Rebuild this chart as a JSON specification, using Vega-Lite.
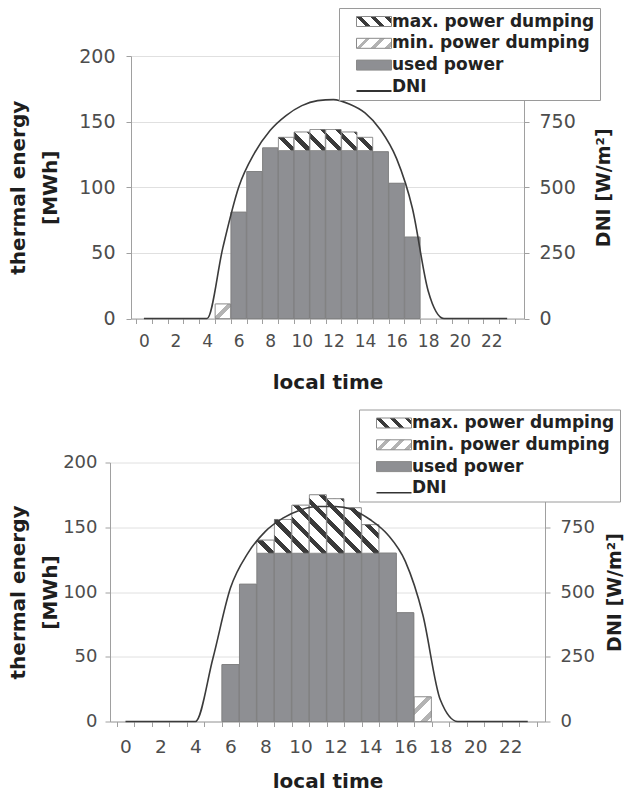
{
  "$schema": "https://vega.github.io/schema/vega-lite/v6.json",
  "background": "white",
  "padding": {"left": 8, "top": 7, "right": 0, "bottom": 0},
  "center": true,
  "bounds": "flush",
  "spacing": 143.5,
  "config": {
    "view": {"stroke": null},
    "font": "DejaVu Sans",
    "axis": {
      "labelFont": "DejaVu Sans", "labelFontSize": 18, "labelColor": "#4d4d4d",
      "titleFont": "DejaVu Sans", "titleFontSize": 20, "titleFontWeight": "bold", "titleColor": "#1e1e1e",
      "domainColor": "#a0a0a0", "tickColor": "#a0a0a0", "gridColor": "#e0e0e0",
      "tickSize": 5, "labelFlush": false, "labelOverlap": false
    },
    "legend": {
      "labelFont": "DejaVu Sans", "labelFontSize": 17, "labelFontWeight": "bold", "labelColor": "#222222",
      "fillColor": "white", "strokeColor": "#9a9a9a", "padding": 5, "rowPadding": 3.8,
      "symbolSize": 100, "symbolOffset": 9, "labelOffset": 22, "labelLimit": 400,
      "symbolType": "M-1,-1H6V1H-1Z", "symbolStrokeWidth": 1
    }
  },
  "datasets": {
    "top_energy": [
      {"hour": 5, "type": "min. power dumping", "energy": 11},
      {"hour": 6, "type": "used power", "energy": 81},
      {"hour": 7, "type": "used power", "energy": 112},
      {"hour": 8, "type": "used power", "energy": 130},
      {"hour": 9, "type": "used power", "energy": 128},
      {"hour": 9, "type": "max. power dumping", "energy": 10},
      {"hour": 10, "type": "used power", "energy": 128},
      {"hour": 10, "type": "max. power dumping", "energy": 14},
      {"hour": 11, "type": "used power", "energy": 128},
      {"hour": 11, "type": "max. power dumping", "energy": 16},
      {"hour": 12, "type": "used power", "energy": 128},
      {"hour": 12, "type": "max. power dumping", "energy": 16},
      {"hour": 13, "type": "used power", "energy": 128},
      {"hour": 13, "type": "max. power dumping", "energy": 14},
      {"hour": 14, "type": "used power", "energy": 128},
      {"hour": 14, "type": "max. power dumping", "energy": 10},
      {"hour": 15, "type": "used power", "energy": 127},
      {"hour": 16, "type": "used power", "energy": 103},
      {"hour": 17, "type": "used power", "energy": 62}
    ],
    "bottom_energy": [
      {"hour": 6, "type": "used power", "energy": 44},
      {"hour": 7, "type": "used power", "energy": 106},
      {"hour": 8, "type": "used power", "energy": 130},
      {"hour": 8, "type": "max. power dumping", "energy": 10},
      {"hour": 9, "type": "used power", "energy": 130},
      {"hour": 9, "type": "max. power dumping", "energy": 26},
      {"hour": 10, "type": "used power", "energy": 130},
      {"hour": 10, "type": "max. power dumping", "energy": 37},
      {"hour": 11, "type": "used power", "energy": 130},
      {"hour": 11, "type": "max. power dumping", "energy": 45},
      {"hour": 12, "type": "used power", "energy": 130},
      {"hour": 12, "type": "max. power dumping", "energy": 42},
      {"hour": 13, "type": "used power", "energy": 130},
      {"hour": 13, "type": "max. power dumping", "energy": 35},
      {"hour": 14, "type": "used power", "energy": 130},
      {"hour": 14, "type": "max. power dumping", "energy": 22},
      {"hour": 15, "type": "used power", "energy": 130},
      {"hour": 16, "type": "used power", "energy": 84},
      {"hour": 17, "type": "min. power dumping", "energy": 19}
    ],
    "top_dni": [
      {"hour": 0, "dni": 0}, {"hour": 1, "dni": 0}, {"hour": 2, "dni": 0}, {"hour": 3, "dni": 0},
      {"hour": 4, "dni": 0}, {"hour": 5, "dni": 270}, {"hour": 6, "dni": 500}, {"hour": 7, "dni": 630},
      {"hour": 8, "dni": 717}, {"hour": 9, "dni": 773}, {"hour": 10, "dni": 811}, {"hour": 11, "dni": 830},
      {"hour": 12, "dni": 834}, {"hour": 13, "dni": 817}, {"hour": 14, "dni": 783}, {"hour": 15, "dni": 717},
      {"hour": 16, "dni": 609}, {"hour": 17, "dni": 420}, {"hour": 18, "dni": 105}, {"hour": 19, "dni": 0},
      {"hour": 20, "dni": 0}, {"hour": 21, "dni": 0}, {"hour": 22, "dni": 0}, {"hour": 23, "dni": 0}
    ],
    "bottom_dni": [
      {"hour": 0, "dni": 0}, {"hour": 1, "dni": 0}, {"hour": 2, "dni": 0}, {"hour": 3, "dni": 0},
      {"hour": 4, "dni": 0}, {"hour": 5, "dni": 244}, {"hour": 6, "dni": 515}, {"hour": 7, "dni": 650},
      {"hour": 8, "dni": 734}, {"hour": 9, "dni": 785}, {"hour": 10, "dni": 817}, {"hour": 11, "dni": 830},
      {"hour": 12, "dni": 830}, {"hour": 13, "dni": 817}, {"hour": 14, "dni": 779}, {"hour": 15, "dni": 721},
      {"hour": 16, "dni": 618}, {"hour": 17, "dni": 412}, {"hour": 18, "dni": 84}, {"hour": 19, "dni": 0},
      {"hour": 20, "dni": 0}, {"hour": 21, "dni": 0}, {"hour": 22, "dni": 0}, {"hour": 23, "dni": 0}
    ]
  },
  "resolve": {"scale": {"fill": "independent", "stroke": "independent"}, "legend": {"fill": "independent", "stroke": "independent"}},
  "vconcat": [
    {
      "width": 393,
      "height": 262.5,
      "resolve": {"scale": {"y": "independent"}, "axis": {"x": "independent"}},
      "layer": [
        {
          "data": {"name": "top_energy"},
          "mark": {"type": "bar", "size": 15.2},
          "encoding": {
            "x": {
              "field": "hour", "type": "quantitative",
              "scale": {"domain": [-0.5, 23.75], "nice": false, "zero": false},
              "axis": {
                "orient": "bottom", "values": [0, 2, 4, 6, 8, 10, 12, 14, 16, 18, 20, 22],
                "ticks": false, "tickSize": 5, "labelPadding": 15, "labelFontSize": 17,
                "title": "local time", "titlePadding": 23, "grid": false
              }
            },
            "y": {
              "field": "energy", "type": "quantitative", "stack": "zero",
              "scale": {"domain": [0, 200], "nice": false},
              "axis": {
                "values": [0, 50, 100, 150, 200], "grid": true,
                "title": ["thermal energy", "[MWh]"], "titleLineHeight": 32,
                "labelPadding": 11, "titlePadding": 18, "labelFontSize": 19
              }
            },
            "fill": {
              "field": "type", "type": "nominal",
              "scale": {
                "domain": ["max. power dumping", "min. power dumping", "used power", "DNI"],
                "range": [
                  {"expr": "{gradient:'linear',x1:0,y1:1,x2:2.241,y2:0.36,stops:[{offset:0,color:'#fff'},{offset:0.11,color:'#fff'},{offset:0.11,color:'#3a3a3a'},{offset:0.1667,color:'#3a3a3a'},{offset:0.1667,color:'#fff'},{offset:0.2767,color:'#fff'},{offset:0.2767,color:'#3a3a3a'},{offset:0.3333,color:'#3a3a3a'},{offset:0.3333,color:'#fff'},{offset:0.4433,color:'#fff'},{offset:0.4433,color:'#3a3a3a'},{offset:0.5,color:'#3a3a3a'},{offset:0.5,color:'#fff'},{offset:0.61,color:'#fff'},{offset:0.61,color:'#3a3a3a'},{offset:0.6667,color:'#3a3a3a'},{offset:0.6667,color:'#fff'},{offset:0.7767,color:'#fff'},{offset:0.7767,color:'#3a3a3a'},{offset:0.8333,color:'#3a3a3a'},{offset:0.8333,color:'#fff'},{offset:0.9433,color:'#fff'},{offset:0.9433,color:'#3a3a3a'},{offset:1,color:'#3a3a3a'}]}"},
                  {"expr": "{gradient:'linear',x1:0,y1:0,x2:2.241,y2:0.64,stops:[{offset:0,color:'#fff'},{offset:0.11,color:'#fff'},{offset:0.11,color:'#b3b3b3'},{offset:0.1667,color:'#b3b3b3'},{offset:0.1667,color:'#fff'},{offset:0.2767,color:'#fff'},{offset:0.2767,color:'#b3b3b3'},{offset:0.3333,color:'#b3b3b3'},{offset:0.3333,color:'#fff'},{offset:0.4433,color:'#fff'},{offset:0.4433,color:'#b3b3b3'},{offset:0.5,color:'#b3b3b3'},{offset:0.5,color:'#fff'},{offset:0.61,color:'#fff'},{offset:0.61,color:'#b3b3b3'},{offset:0.6667,color:'#b3b3b3'},{offset:0.6667,color:'#fff'},{offset:0.7767,color:'#fff'},{offset:0.7767,color:'#b3b3b3'},{offset:0.8333,color:'#b3b3b3'},{offset:0.8333,color:'#fff'},{offset:0.9433,color:'#fff'},{offset:0.9433,color:'#b3b3b3'},{offset:1,color:'#b3b3b3'}]}"},
                  "#8e8f93",
                  {"expr": "{gradient:'linear',x1:0,y1:0,x2:0,y2:1,stops:[{offset:0,color:'#fff'},{offset:0.84,color:'#fff'},{offset:0.84,color:'#333'},{offset:1,color:'#333'}]}"}
                ]
              },
              "legend": {"orient": "none", "legendX": 208, "legendY": -48, "title": null}
            },
            "stroke": {
              "field": "type", "type": "nominal",
              "scale": {"domain": ["max. power dumping", "min. power dumping", "used power", "DNI"], "range": ["#8a8a8a", "#8a8a8a", "#8a8a8a", "transparent"]},
              "legend": {"orient": "none", "legendX": 208, "legendY": -48, "title": null}
            },
            "detail": {"field": "type"},
            "order": {"field": "type", "sort": "descending"}
          }
        },
        {
          "data": {"name": "top_energy"},
          "mark": {
            "type": "bar", "size": 15.2, "stroke": "#7c7c7c", "strokeWidth": 0.6,
            "fill": {"expr": "datum.type === 'used power' ? '#8e8f93' : datum.type === 'max. power dumping' ? {gradient:'linear',x1:0,y1:1,x2:110.3*15.2/(231.04+pow(datum.energy*1.3125,2)),y2:1-110.3*datum.energy*1.3125/(231.04+pow(datum.energy*1.3125,2)),stops:[{offset:0,color:'#fff'},{offset:0.11,color:'#fff'},{offset:0.11,color:'#3a3a3a'},{offset:0.1667,color:'#3a3a3a'},{offset:0.1667,color:'#fff'},{offset:0.2767,color:'#fff'},{offset:0.2767,color:'#3a3a3a'},{offset:0.3333,color:'#3a3a3a'},{offset:0.3333,color:'#fff'},{offset:0.4433,color:'#fff'},{offset:0.4433,color:'#3a3a3a'},{offset:0.5,color:'#3a3a3a'},{offset:0.5,color:'#fff'},{offset:0.61,color:'#fff'},{offset:0.61,color:'#3a3a3a'},{offset:0.6667,color:'#3a3a3a'},{offset:0.6667,color:'#fff'},{offset:0.7767,color:'#fff'},{offset:0.7767,color:'#3a3a3a'},{offset:0.8333,color:'#3a3a3a'},{offset:0.8333,color:'#fff'},{offset:0.9433,color:'#fff'},{offset:0.9433,color:'#3a3a3a'},{offset:1,color:'#3a3a3a'}]} : {gradient:'linear',x1:0,y1:0,x2:110.3*15.2/(231.04+pow(datum.energy*1.3125,2)),y2:110.3*datum.energy*1.3125/(231.04+pow(datum.energy*1.3125,2)),stops:[{offset:0,color:'#fff'},{offset:0.11,color:'#fff'},{offset:0.11,color:'#b3b3b3'},{offset:0.1667,color:'#b3b3b3'},{offset:0.1667,color:'#fff'},{offset:0.2767,color:'#fff'},{offset:0.2767,color:'#b3b3b3'},{offset:0.3333,color:'#b3b3b3'},{offset:0.3333,color:'#fff'},{offset:0.4433,color:'#fff'},{offset:0.4433,color:'#b3b3b3'},{offset:0.5,color:'#b3b3b3'},{offset:0.5,color:'#fff'},{offset:0.61,color:'#fff'},{offset:0.61,color:'#b3b3b3'},{offset:0.6667,color:'#b3b3b3'},{offset:0.6667,color:'#fff'},{offset:0.7767,color:'#fff'},{offset:0.7767,color:'#b3b3b3'},{offset:0.8333,color:'#b3b3b3'},{offset:0.8333,color:'#fff'},{offset:0.9433,color:'#fff'},{offset:0.9433,color:'#b3b3b3'},{offset:1,color:'#b3b3b3'}]}"}
          },
          "encoding": {
            "x": {"field": "hour", "type": "quantitative", "axis": null},
            "y": {"field": "energy", "type": "quantitative", "stack": "zero", "scale": {"domain": [0, 200], "nice": false}, "axis": null},
            "detail": {"field": "type"},
            "order": {"field": "type", "sort": "descending"}
          }
        },
        {
          "data": {"name": "top_dni"},
          "mark": {"type": "line", "stroke": "#3b3b3b", "strokeWidth": 1.6, "interpolate": "monotone"},
          "encoding": {
            "x": {
              "field": "hour", "type": "quantitative",
              "axis": {
                "orient": "bottom", "values": [-0.5, 0.5, 1.5, 2.5, 3.5, 4.5, 5.5, 6.5, 7.5, 8.5, 9.5, 10.5, 11.5, 12.5, 13.5, 14.5, 15.5, 16.5, 17.5, 18.5, 19.5, 20.5, 21.5, 22.5, 23.5],
                "labels": false, "title": null, "domain": false, "grid": false, "tickSize": 5
              }
            },
            "y": {
              "field": "dni", "type": "quantitative",
              "scale": {"domain": [0, 1000], "nice": false},
              "axis": {
                "orient": "right", "values": [0, 250, 500, 750], "grid": false,
                "title": "DNI [W/m²]", "titleAngle": 270, "titleFontSize": 19,
                "labelPadding": 10, "titlePadding": 38, "labelFontSize": 19
              }
            }
          }
        }
      ]
    },
    {
      "width": 435,
      "height": 259,
      "resolve": {"scale": {"y": "independent"}, "axis": {"x": "independent"}},
      "layer": [
        {
          "data": {"name": "bottom_energy"},
          "mark": {"type": "bar", "size": 16.9},
          "encoding": {
            "x": {
              "field": "hour", "type": "quantitative",
              "scale": {"domain": [-0.6, 23.7], "nice": false, "zero": false},
              "axis": {
                "orient": "bottom", "values": [0, 2, 4, 6, 8, 10, 12, 14, 16, 18, 20, 22],
                "ticks": false, "tickSize": 5, "labelPadding": 16, "labelFontSize": 18.5,
                "title": "local time", "titlePadding": 15, "grid": false
              }
            },
            "y": {
              "field": "energy", "type": "quantitative", "stack": "zero",
              "scale": {"domain": [0, 200], "nice": false},
              "axis": {
                "values": [0, 50, 100, 150, 200], "grid": true,
                "title": ["thermal energy", "[MWh]"], "titleLineHeight": 32,
                "labelPadding": 8, "titlePadding": 2, "labelFontSize": 18
              }
            },
            "fill": {
              "field": "type", "type": "nominal",
              "scale": {
                "domain": ["max. power dumping", "min. power dumping", "used power", "DNI"],
                "range": [
                  {"expr": "{gradient:'linear',x1:0,y1:1,x2:2.241,y2:0.36,stops:[{offset:0,color:'#fff'},{offset:0.11,color:'#fff'},{offset:0.11,color:'#3a3a3a'},{offset:0.1667,color:'#3a3a3a'},{offset:0.1667,color:'#fff'},{offset:0.2767,color:'#fff'},{offset:0.2767,color:'#3a3a3a'},{offset:0.3333,color:'#3a3a3a'},{offset:0.3333,color:'#fff'},{offset:0.4433,color:'#fff'},{offset:0.4433,color:'#3a3a3a'},{offset:0.5,color:'#3a3a3a'},{offset:0.5,color:'#fff'},{offset:0.61,color:'#fff'},{offset:0.61,color:'#3a3a3a'},{offset:0.6667,color:'#3a3a3a'},{offset:0.6667,color:'#fff'},{offset:0.7767,color:'#fff'},{offset:0.7767,color:'#3a3a3a'},{offset:0.8333,color:'#3a3a3a'},{offset:0.8333,color:'#fff'},{offset:0.9433,color:'#fff'},{offset:0.9433,color:'#3a3a3a'},{offset:1,color:'#3a3a3a'}]}"},
                  {"expr": "{gradient:'linear',x1:0,y1:0,x2:2.241,y2:0.64,stops:[{offset:0,color:'#fff'},{offset:0.11,color:'#fff'},{offset:0.11,color:'#b3b3b3'},{offset:0.1667,color:'#b3b3b3'},{offset:0.1667,color:'#fff'},{offset:0.2767,color:'#fff'},{offset:0.2767,color:'#b3b3b3'},{offset:0.3333,color:'#b3b3b3'},{offset:0.3333,color:'#fff'},{offset:0.4433,color:'#fff'},{offset:0.4433,color:'#b3b3b3'},{offset:0.5,color:'#b3b3b3'},{offset:0.5,color:'#fff'},{offset:0.61,color:'#fff'},{offset:0.61,color:'#b3b3b3'},{offset:0.6667,color:'#b3b3b3'},{offset:0.6667,color:'#fff'},{offset:0.7767,color:'#fff'},{offset:0.7767,color:'#b3b3b3'},{offset:0.8333,color:'#b3b3b3'},{offset:0.8333,color:'#fff'},{offset:0.9433,color:'#fff'},{offset:0.9433,color:'#b3b3b3'},{offset:1,color:'#b3b3b3'}]}"},
                  "#8e8f93",
                  {"expr": "{gradient:'linear',x1:0,y1:0,x2:0,y2:1,stops:[{offset:0,color:'#fff'},{offset:0.84,color:'#fff'},{offset:0.84,color:'#333'},{offset:1,color:'#333'}]}"}
                ]
              },
              "legend": {"orient": "none", "legendX": 249, "legendY": -53, "title": null}
            },
            "stroke": {
              "field": "type", "type": "nominal",
              "scale": {"domain": ["max. power dumping", "min. power dumping", "used power", "DNI"], "range": ["#8a8a8a", "#8a8a8a", "#8a8a8a", "transparent"]},
              "legend": {"orient": "none", "legendX": 249, "legendY": -53, "title": null}
            },
            "detail": {"field": "type"},
            "order": {"field": "type", "sort": "descending"}
          }
        },
        {
          "data": {"name": "bottom_energy"},
          "mark": {
            "type": "bar", "size": 16.9, "stroke": "#7c7c7c", "strokeWidth": 0.6,
            "fill": {"expr": "datum.type === 'used power' ? '#8e8f93' : datum.type === 'max. power dumping' ? {gradient:'linear',x1:0,y1:1,x2:110.3*16.9/(285.61+pow(datum.energy*1.295,2)),y2:1-110.3*datum.energy*1.295/(285.61+pow(datum.energy*1.295,2)),stops:[{offset:0,color:'#fff'},{offset:0.11,color:'#fff'},{offset:0.11,color:'#3a3a3a'},{offset:0.1667,color:'#3a3a3a'},{offset:0.1667,color:'#fff'},{offset:0.2767,color:'#fff'},{offset:0.2767,color:'#3a3a3a'},{offset:0.3333,color:'#3a3a3a'},{offset:0.3333,color:'#fff'},{offset:0.4433,color:'#fff'},{offset:0.4433,color:'#3a3a3a'},{offset:0.5,color:'#3a3a3a'},{offset:0.5,color:'#fff'},{offset:0.61,color:'#fff'},{offset:0.61,color:'#3a3a3a'},{offset:0.6667,color:'#3a3a3a'},{offset:0.6667,color:'#fff'},{offset:0.7767,color:'#fff'},{offset:0.7767,color:'#3a3a3a'},{offset:0.8333,color:'#3a3a3a'},{offset:0.8333,color:'#fff'},{offset:0.9433,color:'#fff'},{offset:0.9433,color:'#3a3a3a'},{offset:1,color:'#3a3a3a'}]} : {gradient:'linear',x1:0,y1:0,x2:110.3*16.9/(285.61+pow(datum.energy*1.295,2)),y2:110.3*datum.energy*1.295/(285.61+pow(datum.energy*1.295,2)),stops:[{offset:0,color:'#fff'},{offset:0.11,color:'#fff'},{offset:0.11,color:'#b3b3b3'},{offset:0.1667,color:'#b3b3b3'},{offset:0.1667,color:'#fff'},{offset:0.2767,color:'#fff'},{offset:0.2767,color:'#b3b3b3'},{offset:0.3333,color:'#b3b3b3'},{offset:0.3333,color:'#fff'},{offset:0.4433,color:'#fff'},{offset:0.4433,color:'#b3b3b3'},{offset:0.5,color:'#b3b3b3'},{offset:0.5,color:'#fff'},{offset:0.61,color:'#fff'},{offset:0.61,color:'#b3b3b3'},{offset:0.6667,color:'#b3b3b3'},{offset:0.6667,color:'#fff'},{offset:0.7767,color:'#fff'},{offset:0.7767,color:'#b3b3b3'},{offset:0.8333,color:'#b3b3b3'},{offset:0.8333,color:'#fff'},{offset:0.9433,color:'#fff'},{offset:0.9433,color:'#b3b3b3'},{offset:1,color:'#b3b3b3'}]}"}
          },
          "encoding": {
            "x": {"field": "hour", "type": "quantitative", "axis": null},
            "y": {"field": "energy", "type": "quantitative", "stack": "zero", "scale": {"domain": [0, 200], "nice": false}, "axis": null},
            "detail": {"field": "type"},
            "order": {"field": "type", "sort": "descending"}
          }
        },
        {
          "data": {"name": "bottom_dni"},
          "mark": {"type": "line", "stroke": "#3b3b3b", "strokeWidth": 1.6, "interpolate": "monotone"},
          "encoding": {
            "x": {
              "field": "hour", "type": "quantitative",
              "axis": {
                "orient": "bottom", "values": [-0.5, 0.5, 1.5, 2.5, 3.5, 4.5, 5.5, 6.5, 7.5, 8.5, 9.5, 10.5, 11.5, 12.5, 13.5, 14.5, 15.5, 16.5, 17.5, 18.5, 19.5, 20.5, 21.5, 22.5, 23.5],
                "labels": false, "title": null, "domain": false, "grid": false, "tickSize": 5
              }
            },
            "y": {
              "field": "dni", "type": "quantitative",
              "scale": {"domain": [0, 1000], "nice": false},
              "axis": {
                "orient": "right", "values": [0, 250, 500, 750], "grid": false,
                "title": "DNI [W/m²]", "titleAngle": 270, "titleFontSize": 19,
                "labelPadding": 10, "titlePadding": 30, "labelFontSize": 18
              }
            }
          }
        }
      ]
    }
  ]
}
